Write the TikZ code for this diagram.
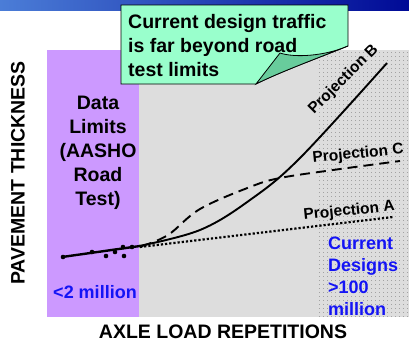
\documentclass[tikz,border=0pt]{standalone}
\usepackage{fontspec}
\setmainfont{Liberation Sans}
\usepackage{tikz}
\usetikzlibrary{patterns.meta}

\definecolor{limitpurple}{RGB}{204,153,255}
\definecolor{chartgray}{RGB}{221,221,221}
\definecolor{calloutgreen}{RGB}{153,255,204}
\definecolor{flapgreen}{RGB}{104,204,156}
\definecolor{textblue}{RGB}{20,20,245}

\begin{document}
\begin{tikzpicture}[
	x=1pt, y=-1pt,
	big/.style={
		font=\bfseries\fontsize{19.5}{24}\selectfont,
		inner sep=0pt
	},
	mid/.style={
		font=\bfseries\fontsize{18}{22}\selectfont,
		inner sep=0pt,
		text=textblue
	},
	proj/.style={
		font=\bfseries\fontsize{15.5}{18}\selectfont,
		inner sep=0pt,
		anchor=base west
	},
	curve/.style={
		line width=1.9pt
	}
	]
	
	\useasboundingbox (0,0) rectangle (409,343);
	
	% banner on top
	\shade[left color={rgb,255:red,75;green,125;blue,215},
	       right color={rgb,255:red,0;green,10;blue,150}]
		(0,0) rectangle (409,10);
	
	% chart areas
	\fill[chartgray] (139,50) rectangle (409,317);
	\fill[limitpurple] (47,50) rectangle (139,317);
	\fill[pattern={Dots[distance=4pt,radius=0.45pt]}, pattern color=black!60]
		(318,50) rectangle (409,317);
	
	% road test data
	\draw[line width=2.4pt] (62,257) -- (140,246);
	\foreach \p in {(63,257),(92,252),(106,256),(115,252),(123,247),(124,256),(132,247)}
		\fill[black] \p circle (2.3pt);
	
	% projections
	\draw[curve] plot[smooth, tension=0.6] coordinates
		{(139,246) (200,230) (250,200) (300,158) (387,63)};
	\draw[curve, dash pattern=on 10pt off 6pt] plot[smooth, tension=0.6] coordinates
		{(142,246) (168,235) (200,209) (250,187) (280,178) (333,170) (400,161)};
	\draw[curve, line width=2.2pt, dash pattern=on 2.2pt off 2pt] (140,247) -- (393,217);
	
	\node[proj, rotate=45] (labB) at (314,115) {Projection B};
	\node[proj, rotate=6] (labC) at (313,163) {Projection C};
	\node[proj, rotate=6] (labA) at (304,220) {Projection A};
	
	% texts
	\node[big, align=center, anchor=north] (limits) at (98,96)
		{Data\\Limits\\(AASHO\\Road\\Test)};
	\node[mid, anchor=base] (low) at (95,298) {<2 million};
	\node[mid, align=left, anchor=north west] (high) at (328,237)
		{Current\\Designs\\>100\\million};
	\node[big, anchor=base] (xlab) at (223,338) {AXLE LOAD REPETITIONS};
	\node[big, rotate=90] (ylab) at (18,173) {PAVEMENT THICKNESS};
	
	% callout
	\draw[fill=calloutgreen, line width=0.8pt] (121,5) -- (348,5) -- (348,46)
		.. controls (318,58) and (280,72) .. (256,84) -- (121,84) -- cycle;
	\draw[fill=flapgreen, line width=0.8pt] (280,53) -- (256,84)
		.. controls (280,72) and (318,58) .. (348,46)
		.. controls (325,56) and (295,58) .. (280,53) -- cycle;
	\node[big, align=left, anchor=north west] (note) at (128,14)
		{Current design traffic\\is far beyond road\\test limits};
	
\end{tikzpicture}
\end{document}
